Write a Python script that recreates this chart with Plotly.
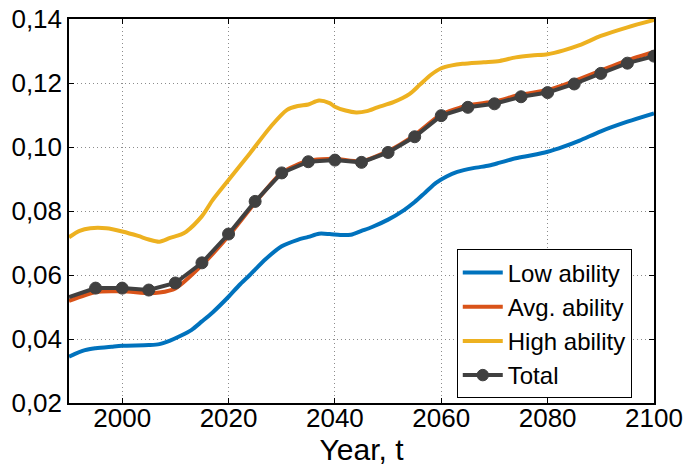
import plotly.graph_objects as go

# Average outcome by ability group over time
years_low = [1990, 1993, 1995, 1998, 2000, 2005, 2007, 2009, 2011, 2013, 2015, 2017,
             2020, 2022, 2024, 2027, 2030, 2033, 2035, 2037, 2039, 2041, 2043, 2045,
             2047, 2050, 2053, 2055, 2057, 2059, 2061, 2063, 2066, 2069, 2071, 2074,
             2077, 2080, 2083, 2086, 2090, 2095, 2100]
low_ability = [0.0345, 0.0365, 0.0371, 0.0376, 0.0379, 0.0381, 0.0384, 0.0395, 0.0410,
               0.0428, 0.0455, 0.0483, 0.0532, 0.0568, 0.0600, 0.0650, 0.0690, 0.0710,
               0.0719, 0.0729, 0.0728, 0.0725, 0.0726, 0.0738, 0.0750, 0.0773, 0.0803,
               0.0828, 0.0858, 0.0888, 0.0908, 0.0922, 0.0934, 0.0942, 0.0951, 0.0965,
               0.0974, 0.0985, 0.1001, 0.1020, 0.1049, 0.1079, 0.1105]

years_avg = [1990, 1995, 2000, 2005, 2007, 2010, 2015, 2020, 2025, 2030, 2035, 2040,
             2045, 2050, 2055, 2060, 2065, 2070, 2075, 2080, 2085, 2090, 2095, 2100]
avg_ability = [0.0519, 0.0547, 0.0549, 0.0543, 0.0545, 0.0558, 0.0631, 0.0722, 0.0826,
               0.0920, 0.0957, 0.0963, 0.0955, 0.0987, 0.1037, 0.1102, 0.1130, 0.1142,
               0.1164, 0.1178, 0.1206, 0.1239, 0.1271, 0.1297]

years_high = [1990, 1992, 1994, 1997, 2000, 2003, 2005, 2007, 2009, 2011, 2012, 2015,
              2017, 2020, 2024, 2028, 2031, 2033, 2035, 2037, 2039, 2040, 2042, 2044,
              2046, 2048, 2051, 2054, 2056, 2058, 2060, 2062, 2064, 2068, 2071, 2074,
              2077, 2080, 2083, 2086, 2090, 2095, 2100]
high_ability = [0.0718, 0.0738, 0.0746, 0.0746, 0.0736, 0.0722, 0.0711, 0.0704, 0.0716,
                0.0726, 0.0735, 0.0784, 0.0834, 0.0897, 0.0980, 0.1065, 0.1116, 0.1128,
                0.1133, 0.1145, 0.1137, 0.1126, 0.1114, 0.1108, 0.1112, 0.1124, 0.1140,
                0.1165, 0.1195, 0.1225, 0.1246, 0.1255, 0.1260, 0.1265, 0.1269, 0.1280,
                0.1286, 0.1290, 0.1302, 0.1318, 0.1347, 0.1374, 0.1397]

years_total = [1990, 1995, 2000, 2005, 2010, 2015, 2020, 2025, 2030, 2035, 2040, 2045,
               2050, 2055, 2060, 2065, 2070, 2075, 2080, 2085, 2090, 2095, 2100]
total = [0.0531, 0.0559, 0.0559, 0.0553, 0.0575, 0.0638, 0.0728, 0.0830, 0.0919, 0.0954,
         0.0959, 0.0952, 0.0983, 0.1032, 0.1098, 0.1124, 0.1135, 0.1157, 0.1170, 0.1197,
         0.1230, 0.1262, 0.1284]

x_ticks = [2000, 2020, 2040, 2060, 2080, 2100]
y_ticks = [0.02, 0.04, 0.06, 0.08, 0.10, 0.12, 0.14]

FONT = "Liberation Sans, Arial, Helvetica, sans-serif"

fig = go.Figure()
fig.add_trace(go.Scatter(x=years_low, y=low_ability, mode="lines", name="Low ability",
                         line=dict(color="#0072BD", width=4, shape="spline", smoothing=0.8)))
fig.add_trace(go.Scatter(x=years_avg, y=avg_ability, mode="lines", name="Avg. ability",
                         line=dict(color="#D95319", width=4, shape="spline", smoothing=0.6)))
fig.add_trace(go.Scatter(x=years_high, y=high_ability, mode="lines", name="High ability",
                         line=dict(color="#EDB120", width=4, shape="spline", smoothing=0.8)))
fig.add_trace(go.Scatter(x=years_total, y=total, mode="lines+markers", name="Total",
                         line=dict(color="#404040", width=4),
                         marker=dict(color="#404040", opacity=1,
                                     size=[0] + [12] * (len(total) - 1),
                                     line=dict(color="#404040", width=1))))

axis_common = dict(
    showline=True, linecolor="black", linewidth=1.5, mirror="allticks",
    ticks="inside", ticklen=5, tickwidth=1, tickcolor="black",
    showgrid=True, gridcolor="#8c8c8c", gridwidth=1, griddash="1px,3px",
    zeroline=False, automargin=False,
    tickfont=dict(family=FONT, size=26, color="black"),
)

fig.update_layout(
    width=687, height=470,
    margin=dict(l=69, r=33, t=19, b=67),
    paper_bgcolor="white", plot_bgcolor="white",
    separators=",.",
    font=dict(family=FONT, color="black"),
    xaxis=dict(range=[1990, 2100], tickvals=x_ticks, ticklabelstandoff=-9,
               title=dict(text="Year, t", font=dict(family=FONT, size=30), standoff=2),
               **axis_common),
    yaxis=dict(range=[0.02, 0.14], tickvals=y_ticks, tickformat=".2f",
               ticklabelstandoff=0, **axis_common),
    legend=dict(x=0.962, y=0.012, xanchor="right", yanchor="bottom",
                bgcolor="white", bordercolor="black", borderwidth=1,
                font=dict(family=FONT, size=24), tracegroupgap=0,
                itemwidth=40),
    showlegend=True,
)

fig.write_html("out.html")
